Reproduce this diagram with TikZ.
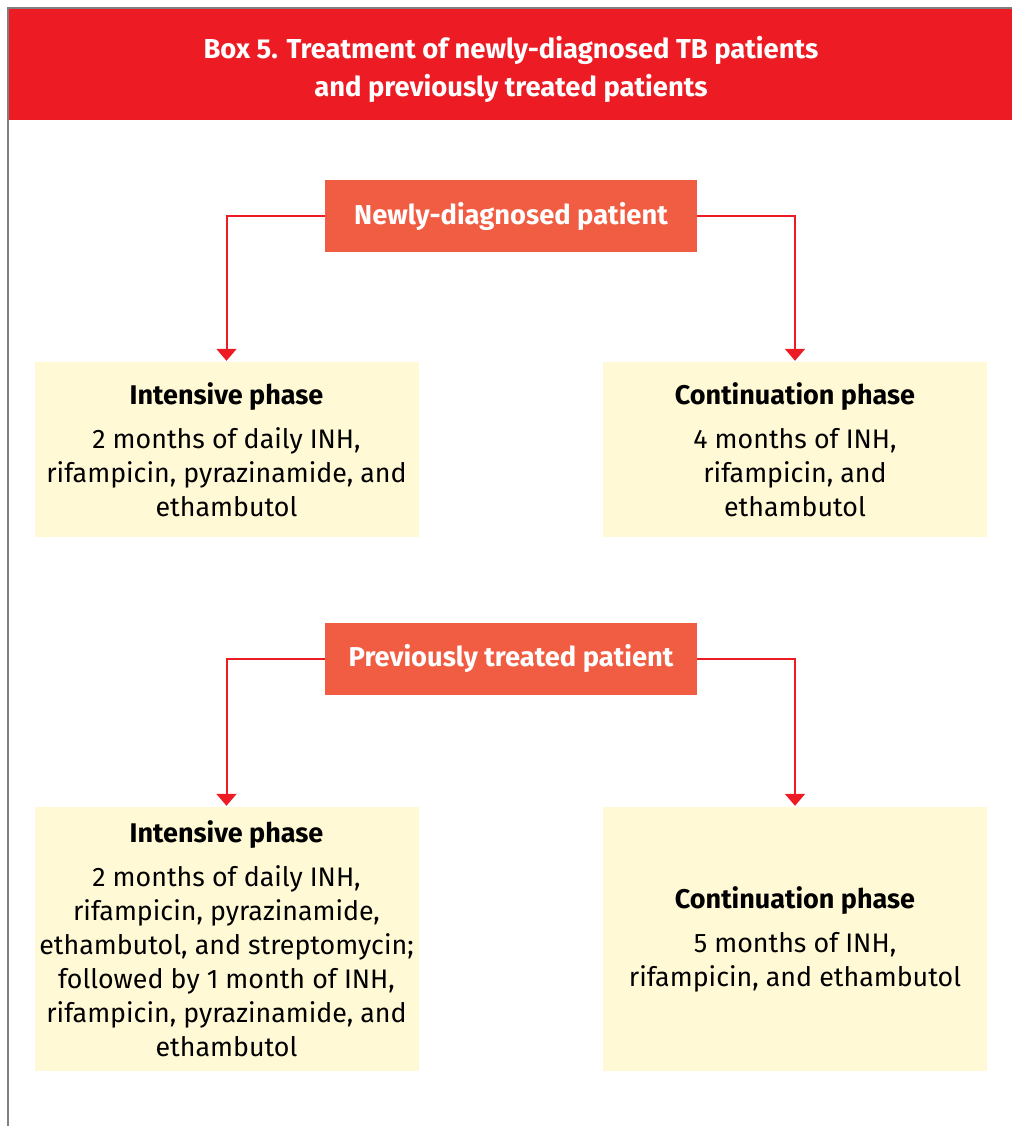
\documentclass[tikz,border=0pt]{standalone}
\usepackage{fontspec}
\setmainfont{Fira Sans}
\usetikzlibrary{arrows.meta}
\definecolor{boxred}{HTML}{ED1C24}
\definecolor{patorange}{HTML}{F15D42}
\definecolor{phaseyellow}{HTML}{FFF9D6}
\definecolor{framegray}{HTML}{808080}
\newcommand{\phasehead}[1]{{\fontsize{27}{34}\selectfont\bfseries #1}}
\tikzset{
  patient/.style={fill=patorange, text=white, font=\fontsize{27.3}{30}\selectfont\bfseries,
    minimum width=372pt, minimum height=72pt, inner sep=0pt},
  phase/.style={fill=phaseyellow, text=black, font=\fontsize{26.8}{34}\selectfont,
    minimum width=384pt, inner sep=0pt, align=center},
  link/.style={draw=boxred, line width=2pt, -{Triangle[width=20pt,length=12pt]}, shorten >=1pt}
}
\begin{document}
\begin{tikzpicture}[x=1pt,y=-1pt]
\useasboundingbox (0,0) rectangle (1012,1126);
% frame and heading band
\fill[boxred] (9,9) rectangle (1012,120);
\draw[framegray, line width=2.5pt] (8,1126) -- (8,8) -- (1012,8);
\node[text=white, font=\fontsize{27.4}{38}\selectfont\bfseries, align=center] (title) at (511,69)
  {Box 5. Treatment of newly-diagnosed TB patients\\and previously treated patients};

% newly-diagnosed patients
\node[patient] (new) at (511,216) {Newly-diagnosed patient};
\node[phase, minimum height=175pt] (newint) at (226.5,449.5)
  {\phasehead{Intensive phase}\\[10pt]2 months of daily INH,\\rifampicin, pyrazinamide, and\\ethambutol};
\node[phase, minimum height=175pt] (newcont) at (795,449.5)
  {\phasehead{Continuation phase}\\[10pt]4 months of INH,\\rifampicin, and\\ethambutol};
\draw[link] (new.west) -| (newint.north);
\draw[link] (new.east) -| (newcont.north);

% previously treated patients
\node[patient] (prev) at (511,658.5) {Previously treated patient};
\node[phase, minimum height=264pt] (prevint) at (226.5,939)
  {\phasehead{Intensive phase}\\[10pt]2 months of daily INH,\\rifampicin, pyrazinamide,\\ethambutol, and streptomycin;\\followed by 1 month of INH,\\rifampicin, pyrazinamide, and\\ethambutol};
\node[phase, minimum height=264pt] (prevcont) at (795,939)
  {\phasehead{Continuation phase}\\[10pt]5 months of INH,\\rifampicin, and ethambutol};
\draw[link] (prev.west) -| (prevint.north);
\draw[link] (prev.east) -| (prevcont.north);
\end{tikzpicture}
\end{document}
